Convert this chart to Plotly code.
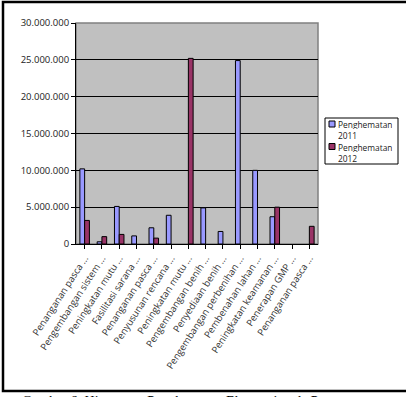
import plotly.graph_objects as go

categories = [
    "Penanganan pasca ...", "Pengembangan sistem ...", "Peningkatan mutu ...",
    "Fasilitasi sarana ...", "Penanganan pasca ...", "Penyusunan rencana ...",
    "Peningkatan mutu ...", "Pengembangan benih ...", "Penyediaan benih ...",
    "Pengembangan perbenihan ...", "Pembenahan lahan ...", "Peningkatan keamanan ...",
    "Penerapan GMP ...", "Penanganan pasca ...",
]
hemat_2011 = [10200000, 300000, 5100000, 1100000, 2200000, 3900000, None,
              4900000, 1700000, 24900000, 10000000, 3700000, None, None]
hemat_2012 = [3200000, 1000000, 1300000, None, 800000, None, 25200000,
              None, None, None, None, 5000000, None, 2400000]
y_ticks = [0, 5000000, 10000000, 15000000, 20000000, 25000000, 30000000]
series_names = ["Penghematan 2011", "Penghematan 2012"]
series_colors = ["#9999ff", "#993366"]

x_idx = list(range(len(categories)))

fig = go.Figure()
for vals, nm, col in zip([hemat_2011, hemat_2012], series_names, series_colors):
    fig.add_trace(go.Bar(x=x_idx, y=vals, name=nm,
                         marker=dict(color=col, line=dict(color="#000000", width=1))))

L, R, T, B = 76, 318, 23, 244
W, H = 406, 397
pw, ph = R - L, B - T


def px(x):
    return (x - L) / pw


def py(y):
    return (B - y) / ph


fig.update_layout(
    width=W, height=H,
    margin=dict(l=L, r=W - R, t=T, b=H - B),
    paper_bgcolor="white", plot_bgcolor="#c0c0c0",
    barmode="group", bargap=0.45, bargroupgap=0,
    separators=",.",
    font=dict(family="Open Sans, DejaVu Sans", size=9, color="#222222"),
    showlegend=False,
)
fig.update_xaxes(
    tickmode="array", tickvals=x_idx, ticktext=categories, tickangle=-57,
    range=[-0.5, len(categories) - 0.5],
    tickson="boundaries", ticks="outside", ticklen=4, tickcolor="black",
    showline=True, linecolor="black", linewidth=1, mirror=False,
    showgrid=False, tickfont=dict(size=9.5, color="#333333"),
)
fig.update_yaxes(
    range=[0, 30000000], tickvals=y_ticks, tickformat=",d",
    ticks="outside", ticklen=4, tickcolor="black",
    showline=True, linecolor="black", linewidth=1,
    showgrid=True, gridcolor="black", gridwidth=1, zeroline=False,
    tickfont=dict(size=9.5, color="#222222"),
)
# plot area border (gray)
fig.add_shape(type="rect", xref="paper", yref="paper", x0=0, y0=0, x1=1, y1=1,
              line=dict(color="#808080", width=1.5), layer="below")
# manual legend
fig.add_shape(type="rect", xref="paper", yref="paper",
              x0=px(325), x1=px(398), y0=py(164), y1=py(118),
              line=dict(color="black", width=1), fillcolor="white")
line_y = [[124, 135], [146.5, 157.5]]
for i, (nm, col) in enumerate(zip(series_names, series_colors)):
    ys = line_y[i]
    fig.add_shape(type="rect", xref="paper", yref="paper",
                  x0=px(329), x1=px(335), y0=py(ys[0] + 3), y1=py(ys[0] - 3),
                  line=dict(color="black", width=1), fillcolor=col)
    for j, part in enumerate(nm.split(" ")):
        fig.add_annotation(text=part, xref="paper", yref="paper",
                           x=px(337), y=py(ys[j]),
                           xanchor="left", yanchor="middle",
                           height=10, valign="middle", borderpad=0,
                           showarrow=False,
                           font=dict(size=8.4, color="#222222"))
# outer frame
fig.add_shape(type="rect", xref="paper", yref="paper",
              x0=px(3), x1=px(W + 5), y0=py(391), y1=py(2),
              line=dict(color="black", width=2.5))
fig.add_annotation(text="Gambar 6. Histogram Penghematan Ekonomi pada P...",
                   xref="paper", yref="paper", x=px(20), y=py(392),
                   xanchor="left", yanchor="top", showarrow=False,
                   font=dict(family="Liberation Serif", size=14, color="black"))
fig.write_html("out.html")
